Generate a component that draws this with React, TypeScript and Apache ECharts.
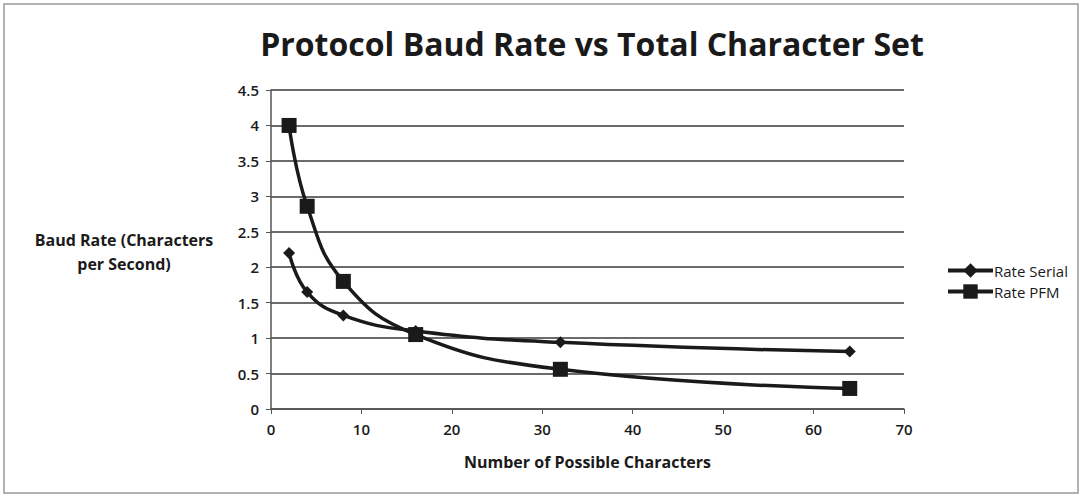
import React, { useEffect, useRef } from "react";
import * as echarts from "echarts";

const xValues = [2, 4, 8, 16, 32, 64];
const rateSerial = [2.2, 1.65, 1.32, 1.1, 0.94, 0.81];
const ratePFM = [4, 2.86, 1.8, 1.05, 0.56, 0.29];
const titleText = "Protocol Baud Rate vs Total Character Set";
const xAxisName = "Number of Possible Characters";
const yAxisName = "Baud Rate (Characters\nper Second)";

export default function App() {
  const ref = useRef<HTMLDivElement>(null);
  useEffect(() => {
    const chart = echarts.init(ref.current!, null, { renderer: "svg" });
    const font = "'Open Sans', Lato, sans-serif";
    chart.setOption({
      animation: false,
      backgroundColor: "#fff",
      textStyle: { fontFamily: font },
      title: {
        text: titleText,
        left: 587,
        textAlign: "center",
        top: 22,
        textStyle: { fontFamily: font, fontSize: 32, fontWeight: "bold", color: "#1a1a1a" },
      },
      graphic: [
        {
          type: "rect",
          shape: { x: 4, y: 4, width: 1074, height: 489 },
          style: { fill: "none", stroke: "#999", lineWidth: 1.5 },
        },
        {
          type: "text",
          x: 124,
          y: 228,
          style: {
            text: yAxisName,
            font: `bold 16px ${font}`,
            fill: "#1a1a1a",
            align: "center",
            lineHeight: 24,
          },
        },
      ],
      grid: { left: 271, right: 180, top: 90, bottom: 88 },
      legend: {
        orient: "vertical",
        left: 941,
        top: 258,
        itemGap: 6,
        itemWidth: 45,
        itemHeight: 18,
        lineStyle: { width: 4, color: "#1a1a1a" },
        textStyle: { fontFamily: font, fontSize: 15, color: "#1a1a1a", padding: [0, 0, 0, -4] },
        data: ["Rate Serial", "Rate PFM"],
      },
      xAxis: {
        type: "value",
        min: 0,
        max: 70,
        interval: 10,
        name: xAxisName,
        nameLocation: "middle",
        nameGap: 45,
        nameTextStyle: { fontFamily: font, fontSize: 16, fontWeight: "bold", color: "#1a1a1a" },
        axisLine: { lineStyle: { color: "#555", width: 1.5 } },
        axisTick: { show: true, length: 5, lineStyle: { color: "#555" } },
        axisLabel: { fontFamily: font, fontSize: 15, fontWeight: 600, color: "#1a1a1a", margin: 12 },
        splitLine: { show: false },
      },
      yAxis: {
        type: "value",
        min: 0,
        max: 4.5,
        interval: 0.5,
        axisLine: { show: true, lineStyle: { color: "#555", width: 1.5 } },
        axisTick: { show: true, length: 5, lineStyle: { color: "#555" } },
        axisLabel: { fontFamily: font, fontSize: 15, fontWeight: 600, color: "#1a1a1a", margin: 12 },
        splitLine: { show: true, lineStyle: { color: "#3a3a3a", width: 1.5 } },
      },
      series: [
        {
          name: "Rate Serial",
          type: "line",
          smooth: 0.45,
          data: xValues.map((x, i) => [x, rateSerial[i]]),
          symbol: "diamond",
          symbolSize: 12,
          lineStyle: { color: "#1a1a1a", width: 3.5 },
          itemStyle: { color: "#1a1a1a" },
        },
        {
          name: "Rate PFM",
          type: "line",
          smooth: 0.45,
          data: xValues.map((x, i) => [x, ratePFM[i]]),
          symbol: "rect",
          symbolSize: 15,
          lineStyle: { color: "#1a1a1a", width: 3.5 },
          itemStyle: { color: "#1a1a1a" },
        },
      ],
    });
    return () => chart.dispose();
  }, []);
  return (
    <div
      ref={ref}
      style={{ position: "fixed", left: 0, top: 0, width: 1084, height: 497 }}
    />
  );
}
